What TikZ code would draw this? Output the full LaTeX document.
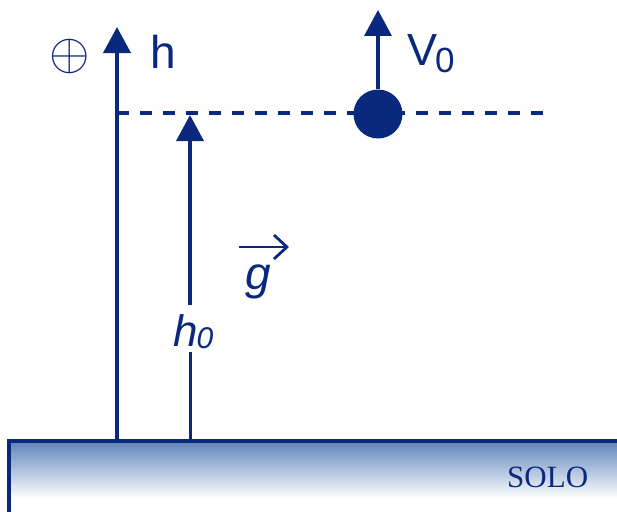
\documentclass[tikz,border=0pt]{standalone}
\usepackage{fontspec}
\usepackage{graphicx}
\setmainfont{Liberation Sans}
\newfontfamily\solofont{Liberation Serif}
\usetikzlibrary{arrows.meta}
\definecolor{navy}{RGB}{10,40,125}
\definecolor{groundtop}{RGB}{100,136,188}
\tikzset{
  arr/.style={navy, line width=4pt, -{Triangle[length=26pt,width=27pt]}},
  thinline/.style={navy, line width=3pt},
  dashline/.style={navy, line width=3.5pt, dash pattern=on 12pt off 11pt},
  ball/.style={circle, fill=navy, inner sep=0pt, minimum size=49pt},
  lab/.style={navy, inner sep=0pt, anchor=base west},
}
\begin{document}
\begin{tikzpicture}[x=1pt,y=-1pt]
\useasboundingbox (0,0) rectangle (617,511);
% ground
\fill[white] (9,441) rectangle (640,540);
\shade[top color=groundtop, bottom color=white] (9,443) rectangle (640,498);
\coordinate (gbl) at (9,540);
\coordinate (gtl) at (9,441);
\coordinate (gtr) at (640,441);
\draw[navy, line width=3.5pt] (gbl) -- (gtl) -- (gtr);
\node[lab, font=\solofont\fontsize{31}{31}\selectfont] (solo) at (507,487) {SOLO};
% main axis
\coordinate (axbase) at (117,441);
\coordinate (axtip) at (117,27);
\draw[arr] (axbase) -- (axtip);
\node[navy, inner sep=0pt] (plus) at (70,56) {\scalebox{5.2}{$\oplus$}};
\node[lab, font=\fontsize{46}{50}\selectfont] (hlab) at (150,68) {h};
% dashed level line and ball
\coordinate (dl) at (117,113);
\coordinate (dr) at (553,113);
\draw[dashline] (dl) -- (dr);
\node[ball] (ball) at (378,114) {};
\coordinate (vtip) at (378,10);
\draw[arr, line width=3.6pt] (ball.north) -- (vtip);
\node[lab, font=\fontsize{45}{50}\selectfont] (vlab) at (407,65) {V\kern-2pt\raisebox{-7pt}{\fontsize{35}{35}\selectfont 0}};
% h0 arrow
\coordinate (h0base) at (190,441);
\coordinate (h0low) at (190,352);
\coordinate (h0up) at (190,305);
\coordinate (h0tip) at (190,115);
\draw[thinline] (h0base) -- (h0low);
\draw[arr, line width=3.6pt] (h0up) -- (h0tip);
\node[lab, font=\fontsize{44}{50}\selectfont\itshape] (h0lab) at (173,346) {h\kern-1pt\raisebox{-2pt}{\fontsize{30}{30}\selectfont\itshape 0}};
% g vector
\node[lab, font=\fontsize{46}{50}\selectfont\itshape] (glab) at (245,289) {g};
\coordinate (gl) at (239,247);
\coordinate (gr) at (289,247);
\draw[navy, line width=2.8pt, -{Straight Barb[length=13pt,width=24pt]}] (gl) -- (gr);
\end{tikzpicture}
\end{document}
